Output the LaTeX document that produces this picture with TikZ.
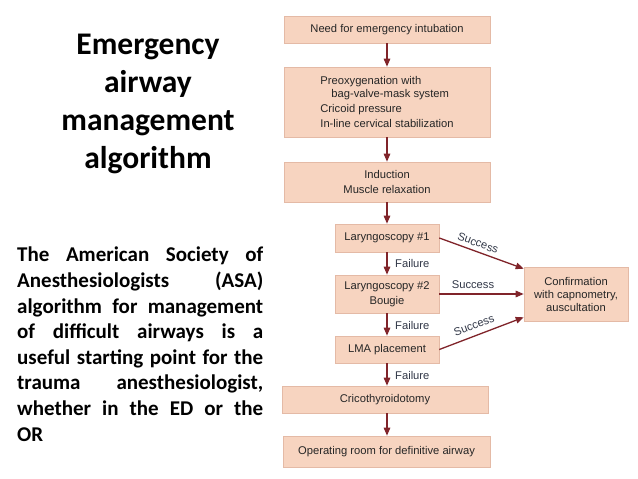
\documentclass[tikz,border=0pt]{standalone}
\usepackage{fontspec}
\setmainfont{Carlito}
\newfontfamily\diagfont{Liberation Sans}
\usetikzlibrary{arrows.meta,positioning}
\definecolor{boxfill}{RGB}{247,212,192}
\definecolor{boxedge}{RGB}{228,186,166}
\definecolor{arrowred}{RGB}{128,36,42}
\definecolor{textgrey}{RGB}{38,38,38}
\definecolor{labelgrey}{RGB}{50,56,72}
\newcommand{\jline}[1]{\leavevmode\hbox to 246bp{\spaceskip=0.226em plus 1fil\relax #1}}
\begin{document}
\begin{tikzpicture}[x=1bp,y=-1bp,
  flowbox/.style={draw=boxedge,line width=0.6bp,fill=boxfill,inner sep=0pt,
    text=textgrey,font=\diagfont\fontsize{11.2bp}{13bp}\selectfont,align=center},
  flowarrow/.style={draw=arrowred,line width=1.3bp,-{Triangle[length=8bp,width=6.5bp]}},
  edgelabel/.style={text=labelgrey,font=\diagfont\fontsize{11.2bp}{13bp}\selectfont,inner sep=0pt}]
\useasboundingbox (0,0) rectangle (638,479);
\fill[white] (0,0) rectangle (638,479);
% left texts
\node[font=\bfseries\fontsize{31.5bp}{38bp}\selectfont,align=center,anchor=center] (title) at (148,104)
  {Emergency\\airway\\management\\algorithm};
\node[font=\bfseries\fontsize{21bp}{25.6bp}\selectfont,anchor=north west,inner sep=0pt,text width=246bp,align=left] (para) at (17,247)
  {\jline{The American Society of}\\
   \jline{Anesthesiologists (ASA)}\\
   \jline{algorithm for management}\\
   \jline{of difficult airways is a}\\
   \jline{useful starting point for the}\\
   \jline{trauma anesthesiologist,}\\
   \jline{whether in the ED or the}\\
   OR};
% flowchart boxes
\node[flowbox,minimum width=206bp,minimum height=27bp] (need) at (387,29.5) {Need for emergency intubation};
\node[flowbox,minimum width=206bp,minimum height=70bp,align=left] (preox) at (387,102)
  {Preoxygenation with\\\hspace*{11bp}bag-valve-mask system\\[2bp]Cricoid pressure\\[2bp]In-line cervical stabilization};
\node[flowbox,minimum width=206bp,minimum height=40bp,font=\diagfont\fontsize{11.2bp}{15bp}\selectfont] (induct) at (387,182) {Induction\\Muscle relaxation};
\node[flowbox,minimum width=104bp,minimum height=28bp] (lar1) at (387,238) {Laryngoscopy \#1};
\node[flowbox,minimum width=104bp,minimum height=38bp,font=\diagfont\fontsize{11.2bp}{15bp}\selectfont] (lar2) at (387,294) {Laryngoscopy \#2\\Bougie};
\node[flowbox,minimum width=104bp,minimum height=27bp] (lma) at (387,349.5) {LMA placement};
\node[flowbox,minimum width=206bp,minimum height=27bp] (crico) at (385,399.5) {Cricothyroidotomy};
\node[flowbox,minimum width=207bp,minimum height=31bp] (orbox) at (386.5,451.5) {Operating room for definitive airway};
\node[flowbox,minimum width=104bp,minimum height=54bp] (conf) at (576,294) {Confirmation\\with capnometry,\\auscultation};
% vertical arrows
\draw[flowarrow] (need.south -| 387,0) -- (preox.north -| 387,0);
\draw[flowarrow] (preox.south -| 387,0) -- (induct.north -| 387,0);
\draw[flowarrow] (induct.south -| 387,0) -- (lar1.north);
\draw[flowarrow] (lar1.south) -- (lar2.north);
\draw[flowarrow] (lar2.south) -- (lma.north);
\draw[flowarrow] (lma.south) -- (lma.south |- crico.north);
\draw[flowarrow] (crico.south -| 387,0) -- (orbox.north -| 387,0);
% success arrows
\draw[flowarrow] (lar1.east) -- ([yshift=-2bp]conf.north west);
\draw[flowarrow] (lar2.east) -- (conf.west);
\draw[flowarrow] (lma.east) -- ([yshift=4bp]conf.south west);
% labels
\node[edgelabel,rotate=-20] (s1) at (478,243) {Success};
\node[edgelabel] (s2) at (473,285) {Success};
\node[edgelabel,rotate=21] (s3) at (474,325) {Success};
\node[edgelabel,anchor=west] (f1) at (395,263) {Failure};
\node[edgelabel,anchor=west] (f2) at (395,325) {Failure};
\node[edgelabel,anchor=west] (f3) at (395,375) {Failure};
\end{tikzpicture}
\end{document}
